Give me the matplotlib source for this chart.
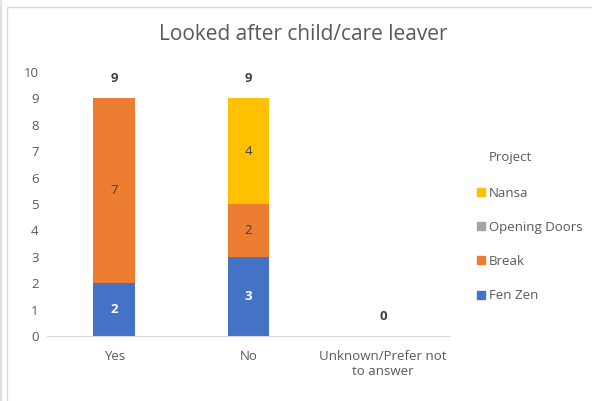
import matplotlib.pyplot as plt
from matplotlib.patches import Rectangle
from matplotlib.lines import Line2D

plt.rcParams['font.family'] = ['Open Sans', 'DejaVu Sans']

categories = ['Yes', 'No', 'Unknown/Prefer not\nto answer']
series = ['Fen Zen', 'Break', 'Opening Doors', 'Nansa']
values = {
    'Fen Zen': [2, 3, 0],
    'Break': [7, 2, 0],
    'Opening Doors': [0, 0, 0],
    'Nansa': [0, 4, 0],
}
colors = {
    'Fen Zen': '#4472C4',
    'Break': '#ED7D31',
    'Opening Doors': '#A5A5A5',
    'Nansa': '#FFC000',
}
label_colors = {'Fen Zen': 'white', 'Break': '#404040',
                'Opening Doors': '#404040', 'Nansa': '#404040'}
totals = [sum(values[s][i] for s in series) for i in range(len(categories))]

fig = plt.figure(figsize=(5.92, 4.01), dpi=100)
# chart frame
fig.patches.append(Rectangle((7 / 592, -0.01), 1.0, 1 - 3 / 401, transform=fig.transFigure,
                             fill=False, edgecolor='#D9D9D9', linewidth=1))
fig.patches.append(Rectangle((0, 0), 2 / 592, 1, transform=fig.transFigure,
                             color='#E0E0E0', linewidth=0))

ax = fig.add_axes([47 / 592, 1 - 336 / 401, 403 / 592, 264 / 401])
x = list(range(len(categories)))
bottom = [0] * len(categories)
for s in series:
    ax.bar(x, values[s], width=0.31, bottom=bottom, color=colors[s], label=s)
    for i, v in enumerate(values[s]):
        if v > 0:
            ax.text(i, bottom[i] + v / 2, str(v), ha='center', va='center',
                    fontsize=9.5, color=label_colors[s],
                    fontweight='bold' if s == 'Fen Zen' else 'normal')
    bottom = [b + v for b, v in zip(bottom, values[s])]

for i, t in enumerate(totals):
    ax.text(i, t + 0.5, str(t), ha='center', va='bottom', fontsize=9.5,
            fontweight='bold', color='#404040')

ax.set_xlim(-0.5, 2.5)
ax.set_ylim(0, 10)
ax.set_yticks(range(0, 11))
ax.set_xticks(x)
ax.set_xticklabels(categories)
ax.tick_params(axis='both', length=0, labelsize=9.5, colors='#595959')
ax.tick_params(axis='y', pad=6)
ax.tick_params(axis='x', pad=10)
for side in ['top', 'right', 'left']:
    ax.spines[side].set_visible(False)
ax.spines['bottom'].set_color('#D9D9D9')

fig.text(303 / 592, 1 - 35 / 401, 'Looked after child/care leaver', ha='center',
         va='center', fontsize=15, color='#595959')

# legend
fig.text(489 / 592, 1 - 158 / 401, 'Project', ha='left', va='center',
         fontsize=9.5, color='#595959')
handles = [Line2D([], [], marker='s', linestyle='none', markersize=5.5,
                  markerfacecolor=colors[s], markeredgecolor=colors[s]) for s in reversed(series)]
leg = fig.legend(handles, list(reversed(series)), loc='upper left',
                 bbox_to_anchor=(463 / 592, 1 - 175 / 401), frameon=False, fontsize=9.5,
                 labelcolor='#595959', handletextpad=0.05,
                 handlelength=1.0, labelspacing=1.6)

fig.savefig('out.png', dpi=100)
